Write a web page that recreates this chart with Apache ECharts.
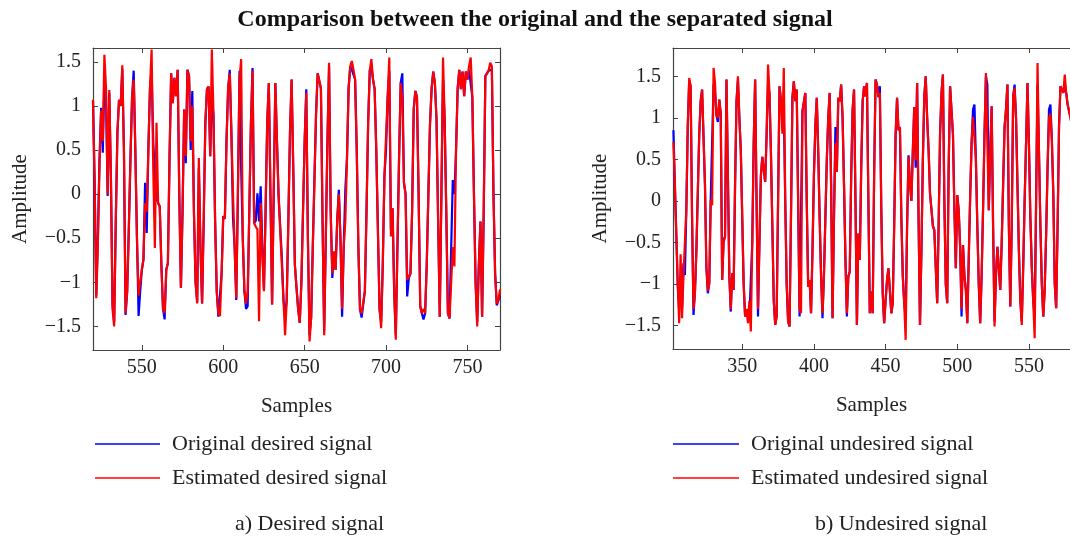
<!DOCTYPE html>
<html>
<head>
<meta charset="utf-8">
<script src="https://cdn.jsdelivr.net/npm/echarts/dist/echarts.min.js"></script>
<style>
  html, body { margin: 0; padding: 0; background: #fff; }
  #chart { width: 1070px; height: 539px; }
</style>
</head>
<body>
<div id="chart"></div>
<script>
// Sample index of the first value in each record
const desiredStart = 520;
const undesiredStart = 302;

// a) Desired signal, samples 520..770
const desiredOriginal = [
  1.05, 0.15, -1.15, -0.5, 0.4, 0.98, 0.47, 1.3, 1.1, -0.02,
  1.15, 0.2, -1.25, -1.45, -0.3, 0.7, 1.07, 1.0, 1.42, 0.5,
  -1.37, -1.1, -0.4, 0.4, 1.1, 1.4, 0.5, -0.5, -1.38, -1.1,
  -0.86, -0.74, 0.13, -0.44, 0.5, 1.2, 1.4, 0.6, 0.2, -0.05,
  -0.1, -0.14, -0.8, -1.3, -1.42, -0.86, -0.78, 0.4, 1.37, 1.03,
  1.32, 1.11, 1.41, 0, -1.06, -0.2, 0.96, 0.35, 1.41, 1.34,
  0.5, 1.17, -0.2, -1.0, -1.22, 0.3, -0.6, -1.24, -0.3, 0.8,
  1.19, 1.22, 0.43, 1.1, 0.9, -0.3, -1.1, -1.39, -1.4, -0.9,
  -0.25, -0.28, 0.6, 1.2, 1.41, 0.7, -0.27, -0.6, -1.2, 0,
  1.4, 0.3, -0.5, -1.1, -1.3, -1.27, -0.2, 0.8, 1.43, -0.33,
  -0.3, 0.01, -0.31, 0.09, -0.6, -1.08, -0.2, 0.8, 1.26, 0,
  -1.25, 0, 1.26, 0.6, -0.02, 0, -0.72, -1.2, -1.38, -1.2,
  -0.3, 0.7, 1.3, 0.3, -0.8, -1.06, -1.3, -1.46, -1.0, -0.2,
  0.6, 1.19, -0.5, -1.6, -1.4, -0.6, 0.16, 0.9, 1.37, 1.36,
  1.2, -0.3, -1.55, -0.5, 0.6, 1.45, -0.2, -0.95, -0.65, -0.86,
  -0.3, 0.05, -0.5, -1.39, -0.6, 0.05, 0.4, 1.2, 1.45, 1.41,
  1.41, 1.3, 0.5, -0.6, -1.31, -1.4, -1.4, -1.1, -0.2, 0.8,
  1.4, 1.45, 1.3, 1.19, 0.5, -0.4, -1.3, -1.45, -0.8, 0.2,
  0.5, 1.1, 1.4, -0.4, -0.16, -1.1, -1.6, -0.6, 0.4, 1.26,
  1.37, 0.13, 0, -1.16, -0.95, -0.9, -0.2, 0.96, 1.17, 1.1,
  0, -1.27, -1.35, -1.42, -1.35, -0.8, 0, 0.79, 1.2, 1.39,
  1.26, 0.85, -0.3, -1.39, 0, 1.3, 0.85, -0.2, -1.35, -1.41,
  -1.41, 0.16, 0, 0.5, 1.2, 1.41, 1.19, 1.39, 1.11, 1.39,
  1.3, 1.41, 1.41, 1.1, 0, -1.0, -1.45, -0.8, -0.31, -1.39,
  -0.2, 1.34, 1.37, 1.4, 1.41, 1.41, 0, -0.9, -1.26, -1.28, -1.15
];
const desiredEstimated = [
  1.07, 0.1, -1.18, -0.55, 0.35, 0.95, 0.6, 1.58, 1.2, 0,
  1.18, 0.2, -1.3, -1.5, -0.3, 0.7, 1.07, 1.0, 1.46, 0.5,
  -1.35, -1.1, -0.4, 0.4, 1.1, 1.3, 0.5, -0.5, -1.15, -1.0,
  -0.86, -0.74, -0.1, -0.2, 0.5, 1.2, 1.64, 0.3, -0.61, 0.81,
  -0.1, -0.14, -0.8, -1.3, -1.35, -0.86, -0.78, 0.4, 1.37, 1.03,
  1.32, 1.11, 1.41, 0, -1.06, -0.2, 0.96, 0.43, 1.41, 1.34,
  0.6, 1.0, -0.2, -1.0, -1.24, 0.41, -0.6, -1.24, -0.3, 0.8,
  1.19, 1.22, 0.43, 1.64, 0.9, -0.3, -1.1, -1.35, -1.38, -0.9,
  -0.25, -0.28, 0.6, 1.2, 1.37, 0.7, 0, -0.6, -1.18, 0,
  1.3, 1.53, -0.5, -1.1, -1.24, -1.1, -0.2, 0.8, 1.4, -0.33,
  -0.37, -0.4, -1.44, -0.1, -0.7, -1.1, -0.2, 0.8, 1.26, 0,
  -1.25, 0, 1.26, 0.6, -0.02, 0, -0.8, -1.2, -1.6, -1.2,
  -0.3, 0.7, 1.3, 0.3, -0.8, -1.06, -1.3, -1.46, -1.0, -0.2,
  0.6, 1.15, -0.5, -1.67, -1.4, -0.6, 0.13, 0.9, 1.37, 1.36,
  1.2, -0.3, -1.6, -0.5, 0.6, 1.49, -0.2, -0.9, -0.65, -0.86,
  -0.3, 0, -0.5, -1.3, -0.6, -0.3, 0.4, 1.2, 1.45, 1.51,
  1.41, 1.3, 0.5, -0.6, -1.31, -1.35, -1.35, -1.1, -0.2, 0.8,
  1.4, 1.53, 1.3, 1.19, 0.5, -0.4, -1.3, -1.52, -0.8, 0.2,
  0.66, 1.1, 1.55, -0.48, -0.16, -1.1, -1.65, -0.6, 0.4, 1.26,
  1.1, 0.13, 0, -0.97, -0.95, -0.9, -0.2, 0.96, 1.17, 1.1,
  0, -1.27, -1.35, -1.3, -1.35, -0.8, 0, 0.79, 1.2, 1.39,
  1.26, 0.85, -0.3, -1.39, 0, 1.55, 0.85, -0.2, -1.35, -1.41,
  -1.41, -0.6, -0.82, 0.5, 1.2, 1.41, 1.19, 1.39, 1.11, 1.39,
  1.3, 1.45, 1.55, 1.1, 0, -1.0, -1.5, -0.8, -0.31, -1.39,
  -0.2, 1.34, 1.37, 1.4, 1.49, 1.45, 0, -0.9, -1.24, -1.2, -1.08
];

// b) Undesired signal, samples 302..580
const undesiredOriginal = [
  0.85, 0.2, -0.4, -1.0, -1.3, -0.95, -1.3, -0.75, -0.89, -0.1,
  0.9, 1.45, 1.38, -0.2, -1.37, -1.1, -0.6, 0.1, 0.8, 1.2,
  1.34, 1.36, 0.2, -0.8, -1.11, -0.99, 0.01, 0, 1.4, 1.3,
  1.03, 0.95, 1.22, 1.05, -0.95, -0.47, -0.43, 1.46, 0.3, -0.9,
  -1.33, -0.87, -1.07, 0.2, 1.2, 1.45, 1.0, 0.61, -0.2, -1.0,
  -1.39, -1.3, -1.3, -1.4, -1.4, -0.5, 0.7, 1.46, 0, -1.39,
  -0.5, 0.3, 0.53, 0.53, 0.23, 0.8, 1.4, 1.3, 0.6, -0.3,
  -1.2, -1.49, -1.39, 0, 1.38, 1.22, 1.0, 1.1, 0, -1.0,
  -1.45, -1.51, -0.2, 1.24, 1.44, 1.2, 1.34, 0, -1.39, -1.38,
  1.08, 1.1, 1.3, 0, -1.03, -0.95, -1.35, -0.6, 0.3, 0.9,
  1.24, 0.6, -0.2, -0.9, -1.41, -0.9, -0.2, 0.5, 1.0, 1.3,
  0.2, -1.41, -0.2, 0.89, 0.35, 1.24, 1.2, 1.4, 1.0, 0.2,
  -0.7, -1.39, -0.91, -0.85, 0.3, 1.1, 1.34, 0, -1.49, -0.39,
  -0.71, 0.4, 1.2, 1.38, 1.26, 1.42, 0, -1.35, -1.09, -1.35,
  0.3, 1.46, 1.4, 1.25, 1.38, -0.1, -1.11, -1.47, -1.2, -0.95,
  -0.81, -0.83, -1.35, -1.23, -0.3, 0.8, 1.24, 0.85, 0.89, -0.2,
  -0.9, -1.23, -1.4, -0.3, 0.55, 0.21, 0, 0.6, 1.13, 0.4,
  1.42, -0.2, -1.49, -0.6, 0.5, 1.26, 1.5, 1.0, 0.61, 0.09,
  -0.1, -0.3, -0.35, -0.8, -1.23, -0.3, 0.8, 1.3, 1.52, 0,
  -1.0, -1.23, 0.4, 1.38, 1.38, 0.8, -0.1, -0.81, 0.07, -0.11,
  -0.55, -1.39, -0.53, -0.9, -1.07, -1.47, -0.7, 0.05, 0.7, 1.1,
  1.16, 0.5, -0.3, -1.0, -1.47, -0.9, -0.1, 0.8, 1.5, 1.4,
  -0.11, 0.6, 1.14, -0.3, -1.45, -0.9, -0.55, -0.8, -1.07, -0.5,
  0.2, 0.89, 1.1, 1.4, -0.3, -1.27, -0.3, 1.26, 1.4, 1.0,
  0.2, -0.6, -1.2, -1.45, -0.8, 0, 0.7, 1.42, 0.69, -0.2,
  -0.8, -1.2, -1.4, 0, 1.4, 0.6, -0.3, -1.0, -1.39, -1.07,
  -0.4, 0.4, 1.1, 1.16, 0.73, 0.09, -0.99, -1.29, -0.3, 0.9,
  1.38, 1.4, 1.3, 1.4, 1.3, 1.16, 1.08, 1.0, 0.9
];
const undesiredEstimated = [
  0.71, 0.2, -0.4, -1.0, -1.47, -0.64, -1.41, -0.9, -0.89, -0.1,
  0.9, 1.48, 1.38, -0.2, -1.3, -1.1, -0.6, 0.1, 0.8, 1.2,
  1.34, 1.36, 0.2, -0.8, -1.08, -0.99, 0.01, -0.05, 1.6, 1.42,
  1.03, 1.0, 1.22, 1.05, -0.95, -0.5, -0.43, 1.46, 0.3, -0.9,
  -1.3, -0.87, -1.07, 0.2, 1.2, 1.5, 1.0, 0.61, -0.2, -1.0,
  -1.39, -1.3, -1.47, -1.2, -1.57, -0.5, 0.7, 1.46, 0, -1.3,
  -0.5, 0.3, 0.53, 0.53, 0.23, 0.8, 1.64, 1.3, 0.6, -0.3,
  -1.2, -1.49, -1.39, 0, 1.38, 1.22, 0.81, 1.6, 0, -1.0,
  -1.45, -1.51, -0.2, 1.24, 1.44, 1.2, 1.34, 0, -1.3, -1.35,
  1.08, 1.1, 1.3, 0, -1.03, -0.95, -1.35, -0.6, 0.3, 0.9,
  1.24, 0.6, -0.2, -0.9, -1.35, -0.9, -0.2, 0.5, 1.0, 1.3,
  0.2, -1.41, -0.2, 0.7, 0.35, 1.24, 1.2, 1.4, 1.0, 0.2,
  -0.7, -1.35, -0.91, -0.85, 0.3, 1.1, 1.34, 0, -1.49, -0.39,
  -0.71, 0.4, 1.2, 1.38, 1.26, 1.42, 0, -1.35, -1.09, -1.35,
  0.3, 1.46, 1.4, 1.25, 1.3, -0.1, -1.11, -1.47, -1.2, -0.95,
  -0.81, -0.83, -1.35, -1.23, -0.3, 0.8, 1.24, 0.85, 0.89, -0.2,
  -0.9, -1.23, -1.67, -0.3, 0.53, 0.21, 0, 0.6, 1.13, 0.49,
  1.42, -0.2, -1.49, -0.6, 0.5, 1.26, 1.5, 1.0, 0.61, 0.09,
  -0.1, -0.3, -0.35, -0.8, -1.23, -0.3, 0.8, 1.3, 1.52, 0,
  -1.0, -1.23, 0.4, 1.38, 1.38, 0.8, -0.1, -0.81, 0.07, -0.11,
  -0.55, -1.3, -0.53, -0.9, -1.07, -1.47, -0.7, 0.05, 0.7, 1.01,
  1.0, 0.5, -0.3, -1.0, -1.47, -0.9, -0.1, 0.8, 1.54, 1.52,
  -0.11, 0.6, 1.14, -0.3, -1.51, -0.9, -0.55, -0.8, -1.07, -0.5,
  0.2, 0.89, 1.1, 1.4, -0.3, -1.27, -0.3, 1.26, 1.36, 1.0,
  0.2, -0.6, -1.2, -1.49, -0.8, 0, 0.7, 1.42, 0.69, -0.2,
  -0.8, -1.2, -1.65, 0, 1.66, 0.6, -0.3, -1.0, -1.39, -1.07,
  -0.4, 0.4, 1.0, 1.05, 0.73, 0.09, -0.99, -1.29, -0.3, 0.9,
  1.38, 1.4, 1.3, 1.52, 1.3, 1.16, 1.08, 1.0, 0.9
];

// Tick positions
const desiredTicks = [550, 600, 650, 700, 750];
const undesiredTicks = [350, 400, 450, 500, 550];
const amplitudeTicks = [-1.5, -1, -0.5, 0, 0.5, 1, 1.5];

const serif = '"Liberation Serif", "Times New Roman", serif';
const ink = '#222';
const frame = '#444';

function toPoints(values, start) {
  return values.map((v, i) => [start + i, v]);
}
function fmt(v) {
  return (v < 0 ? '\u2212' : '') + Math.abs(v);
}

function xPair(gridIndex, min, max, ticks) {
  const common = {
    type: 'value', gridIndex, min, max,
    splitLine: { show: false },
    axisLine: { show: true, onZero: false, lineStyle: { color: frame, width: 1.2 } },
    axisTick: { show: true, inside: true, length: 5, customValues: ticks, lineStyle: { color: frame, width: 1 } }
  };
  return [
    Object.assign({}, common, {
      position: 'bottom',
      name: 'Samples', nameLocation: 'middle', nameGap: 46,
      nameTextStyle: { fontFamily: serif, fontSize: 21, color: ink },
      axisLabel: { customValues: ticks, formatter: fmt, fontFamily: serif, fontSize: 20, color: ink, margin: 8 }
    }),
    Object.assign({}, common, { position: 'top', axisLabel: { show: false } })
  ];
}
function yPair(gridIndex, min, max, showRight) {
  const common = {
    type: 'value', gridIndex, min, max,
    splitLine: { show: false },
    axisLine: { show: true, onZero: false, lineStyle: { color: frame, width: 1.2 } },
    axisTick: { show: true, inside: true, length: 5, customValues: amplitudeTicks, lineStyle: { color: frame, width: 1 } }
  };
  return [
    Object.assign({}, common, {
      position: 'left',
      name: 'Amplitude', nameLocation: 'middle', nameGap: 62,
      nameTextStyle: { fontFamily: serif, fontSize: 21, color: ink },
      axisLabel: { customValues: amplitudeTicks, formatter: fmt, fontFamily: serif, fontSize: 20, color: ink, margin: 12 }
    }),
    Object.assign({}, common, { position: 'right', show: showRight, axisLabel: { show: false } })
  ];
}

function lineSeries(name, color, values, start, axisIndex) {
  return {
    name, type: 'line',
    xAxisIndex: axisIndex, yAxisIndex: axisIndex,
    data: toPoints(values, start),
    showSymbol: false, symbol: 'none',
    lineStyle: { color, width: 2.2 },
    itemStyle: { color },
    animation: false
  };
}

const legendText = { fontFamily: serif, fontSize: 22, color: ink, padding: [0, 0, 0, 7] };
const captionFont = '22px ' + serif;

const chart = echarts.init(document.getElementById('chart'), null, { renderer: 'canvas' });
chart.setOption({
  backgroundColor: '#fff',
  animation: false,
  title: [
    { text: 'Comparison between the original and the separated signal', left: 'center', top: 3,
      textStyle: { fontFamily: serif, fontSize: 24, fontWeight: 'bold', color: '#111' } }
  ],
  graphic: [
    { type: 'text', left: 235, top: 513, style: { text: 'a) Desired signal', font: captionFont, fill: ink } },
    { type: 'text', left: 815, top: 513, style: { text: 'b) Undesired signal', font: captionFont, fill: ink } }
  ],
  legend: [
    { data: ['Original desired signal', 'Estimated desired signal'], orient: 'vertical',
      left: 95, top: 433, padding: 0, itemWidth: 65, itemHeight: 1.5, itemGap: 12, icon: 'rect',
      selectedMode: false, textStyle: legendText },
    { data: ['Original undesired signal', 'Estimated undesired signal'], orient: 'vertical',
      left: 673, top: 433, padding: 0, itemWidth: 66, itemHeight: 1.5, itemGap: 12, icon: 'rect',
      selectedMode: false, textStyle: legendText }
  ],
  grid: [
    { left: 93, top: 48, width: 407, height: 302 },
    { left: 673, top: 48, width: 397, height: 301 }
  ],
  xAxis: [].concat(xPair(0, 520, 770, desiredTicks), xPair(1, 301.7, 578.65, undesiredTicks)),
  yAxis: [].concat(yPair(0, -1.767, 1.657, true), yPair(1, -1.78, 1.84, false)),
  series: [
    lineSeries('Original desired signal', '#0000ff', desiredOriginal, desiredStart, 0),
    lineSeries('Estimated desired signal', '#ff0000', desiredEstimated, desiredStart, 0),
    lineSeries('Original undesired signal', '#0000ff', undesiredOriginal, undesiredStart, 2),
    lineSeries('Estimated undesired signal', '#ff0000', undesiredEstimated, undesiredStart, 2)
  ]
});
</script>
</body>
</html>
